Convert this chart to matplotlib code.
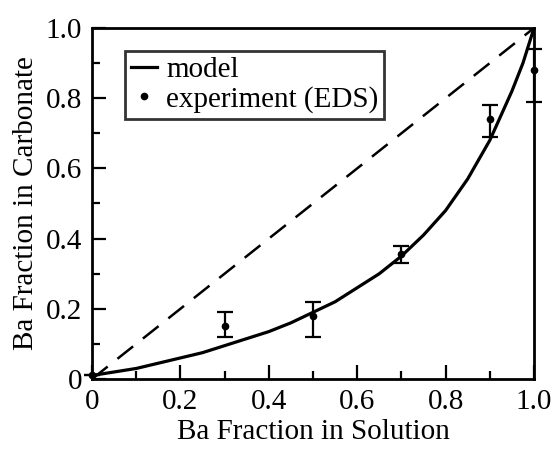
import matplotlib
matplotlib.use("Agg")
import matplotlib.pyplot as plt
from matplotlib.ticker import MultipleLocator
from matplotlib.lines import Line2D

plt.rcParams['font.family'] = ['Liberation Serif', 'DejaVu Serif']

# model curve
model_x = [0.0, 0.05, 0.1, 0.15, 0.2, 0.25, 0.3, 0.35, 0.4, 0.45, 0.5, 0.55, 0.6, 0.65,
           0.7, 0.75, 0.8, 0.85, 0.9, 0.925, 0.95, 0.975, 1.0]
model_y = [0.01, 0.02, 0.03, 0.045, 0.06, 0.075, 0.095, 0.115, 0.135, 0.16, 0.19, 0.22,
           0.26, 0.30, 0.35, 0.41, 0.48, 0.57, 0.68, 0.75, 0.82, 0.90, 1.0]

# experiment (EDS)
exp_x = [0.0, 0.3, 0.5, 0.7, 0.9, 1.0]
exp_y = [0.01, 0.15, 0.18, 0.355, 0.74, 0.88]
exp_lo = [0.01, 0.12, 0.12, 0.33, 0.69, 0.79]
exp_hi = [0.01, 0.19, 0.22, 0.38, 0.78, 0.94]

ideal_x = [0.0, 1.0]
ideal_y = [0.0, 1.0]

tick_vals = [0, 0.2, 0.4, 0.6, 0.8, 1.0]
tick_labels = ['0', '0.2', '0.4', '0.6', '0.8', '1.0']

fig = plt.figure(figsize=(5.53, 4.49), dpi=100)
ax = fig.add_axes([92/553, 1 - 379/449, (534-92)/553, (379-28)/449])

ax.plot(ideal_x, ideal_y, color='black', lw=1.8, dashes=(8, 5))
ax.plot(model_x, model_y, color='black', lw=2.3)
yerr = [[y - lo for y, lo in zip(exp_y, exp_lo)], [hi - y for y, hi in zip(exp_y, exp_hi)]]
ax.errorbar(exp_x, exp_y, yerr=yerr, fmt='o', color='black', ms=4.5, capsize=6,
            elinewidth=1.6, capthick=1.6, clip_on=False)

ax.set_xlim(0, 1.0)
ax.set_ylim(0, 1.0)
ax.xaxis.set_minor_locator(MultipleLocator(0.1))
ax.yaxis.set_minor_locator(MultipleLocator(0.1))
ax.set_xticks(tick_vals)
ax.set_yticks(tick_vals)
ax.set_xticklabels(tick_labels)
ax.set_yticklabels(tick_labels)
ax.tick_params(which='both', direction='in', top=False, right=False, labelsize=21, width=1.6)
ax.tick_params(which='major', length=10, pad=7)
ax.tick_params(which='minor', length=6)
for s in ax.spines.values():
    s.set_linewidth(2.0)

ax.set_xlabel('Ba Fraction in Solution', fontsize=21, labelpad=3)
ax.set_ylabel('Ba Fraction in Carbonate', fontsize=21, labelpad=5)

handles = [Line2D([], [], color='black', lw=2.3),
           Line2D([], [], color='black', lw=0, marker='o', ms=4.5)]
leg = ax.legend(handles, ['model', 'experiment (EDS)'], loc='upper left',
                bbox_to_anchor=(0.075, 0.935), fontsize=21, frameon=True,
                fancybox=False, edgecolor='black', handlelength=0.9, handletextpad=0.3,
                borderpad=0.2, labelspacing=0.1, borderaxespad=0)
leg.get_frame().set_linewidth(2.0)

fig.savefig('out.png', dpi=100)
